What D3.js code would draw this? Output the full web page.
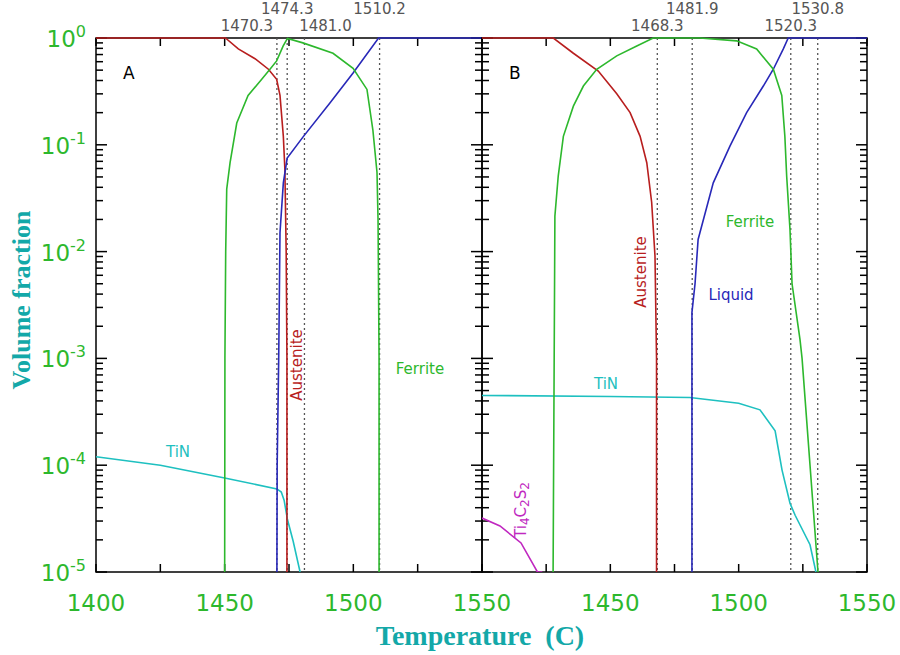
<!DOCTYPE html>
<html>
<head>
<meta charset="utf-8">
<script src="https://cdn.jsdelivr.net/npm/d3@7"></script>
<style>
  body { margin: 0; background: #fff; }
  svg { display: block; }
</style>
</head>
<body>
<svg id="chart"></svg>
<script>
// panel A: [temperature, volume fraction]
const austeniteA = [[1400,1],[1450.3,1],[1455.3,0.79],[1461.8,0.64],[1467.0,0.51],[1470.2,0.41],[1471.5,0.29],[1472.8,0.12],[1473.4,0.059],[1473.9,0.01],[1474.2,1e-3],[1474.2,1e-5]];
const ferriteA = [[1450,1e-5],[1450.1,1e-3],[1450.4,0.01],[1450.8,0.0385],[1452.1,0.068],[1454.7,0.16],[1459.1,0.29],[1464.4,0.41],[1467.6,0.51],[1470.2,0.61],[1472.7,0.84],[1474.4,0.99],[1480.4,0.9],[1492.1,0.72],[1499.9,0.52],[1505.3,0.33],[1507.6,0.137],[1509.2,0.055],[1509.6,0.02],[1510.0,1e-3],[1510.0,1e-5]];
const liquidA = [[1470.3,1e-5],[1470.4,1e-4],[1471,1e-3],[1471.5,0.015],[1472.8,0.044],[1474.3,0.075],[1480.4,0.118],[1490.9,0.246],[1499.9,0.47],[1509.8,1],[1550,1]];
const tinA = [[1400,1.2e-4],[1425,1e-4],[1450,7.6e-5],[1470.3,6.0e-5],[1472,5.6e-5],[1473.1,4.7e-5],[1474.4,3.1e-5],[1476.6,1.95e-5],[1479.3,1e-5]];

// panel B
const austeniteB = [[1400,1],[1427.8,1],[1435.6,0.72],[1445.3,0.49],[1452.5,0.30],[1457.7,0.2],[1461.6,0.12],[1464.2,0.068],[1466.1,0.029],[1467.4,0.0091],[1468.0,1e-3],[1468.0,1e-5]];
const ferriteB = [[1427.7,1e-5],[1428.3,0.0069],[1428.4,0.0215],[1429.7,0.051],[1431.7,0.12],[1435.6,0.23],[1439.5,0.355],[1444.7,0.51],[1452.5,0.68],[1460.3,0.84],[1466.7,1],[1484.9,1],[1499.2,0.94],[1507.0,0.79],[1513.5,0.51],[1516.8,0.29],[1518.0,0.12],[1518.7,0.051],[1520.0,0.016],[1520.8,0.005],[1523.9,0.0015],[1524.7,1e-3],[1527.8,1e-4],[1530.9,1e-5]];
const liquidB = [[1481.8,1e-5],[1481.8,0.0027],[1483.0,0.005],[1484.2,0.013],[1484.9,0.015],[1490.1,0.044],[1496.6,0.097],[1503.1,0.2],[1509.6,0.355],[1513.5,0.51],[1517.4,0.79],[1519.3,1],[1550,1]];
const tinB = [[1400,4.5e-4],[1450,4.4e-4],[1481,4.3e-4],[1500,3.8e-4],[1508.3,3.3e-4],[1514.2,2.1e-4],[1516.9,9e-5],[1520,4.4e-5],[1522,3.4e-5],[1527.8,1.8e-5],[1530.1,1e-5]];
const ti4c2s2B = [[1400,3.2e-5],[1407,2.7e-5],[1415.2,1.87e-5],[1421.6,1e-5],[1423.5,1e-5]];

const markersA = [1470.3, 1474.3, 1481.0, 1510.2];
const markersB = [1468.3, 1481.9, 1520.3, 1530.8];

const xTicksA = [1400, 1450, 1500, 1550];
const xTicksB = [1450, 1500, 1550];
const decades = [-5, -4, -3, -2, -1, 0];

const W = 900, H = 655;
const yTop = 38, yBottom = 572;
const colors = { red: "#b81e1e", green: "#2db82d", blue: "#2828b8", teal: "#1ec0c0", magenta: "#c028c0" };

const svg = d3.select("#chart").attr("width", W).attr("height", H);

const y = d3.scaleLog().domain([1e-5, 1]).range([yBottom, yTop]);

function panel(x0, x1, name, series, markers, labelShift, xTicks, clipId) {
  const x = d3.scaleLinear().domain([1400, 1550]).range([x0, x1]);
  const g = svg.append("g");

  g.append("clipPath").attr("id", clipId)
    .append("rect").attr("x", x0).attr("y", yTop - 2).attr("width", x1 - x0).attr("height", yBottom - yTop + 2);

  // frame
  g.append("rect").attr("x", x0).attr("y", yTop).attr("width", x1 - x0).attr("height", yBottom - yTop)
    .attr("fill", "none").attr("stroke", "#000").attr("stroke-width", 1.5);

  // x ticks every 25
  d3.range(1400, 1551, 25).forEach(t => {
    g.append("line").attr("x1", x(t)).attr("x2", x(t)).attr("y1", yBottom).attr("y2", yBottom - 8).attr("stroke", "#000").attr("stroke-width", 1.5);
    g.append("line").attr("x1", x(t)).attr("x2", x(t)).attr("y1", yTop).attr("y2", yTop + 8).attr("stroke", "#000").attr("stroke-width", 1.5);
  });

  // y ticks (both sides, inward)
  decades.forEach(d => {
    const vals = d < 0 ? d3.range(1, 10).map(m => m * Math.pow(10, d)) : [1];
    vals.forEach((v, i) => {
      const len = i === 0 ? 11 : 7;
      g.append("line").attr("x1", x0).attr("x2", x0 + len).attr("y1", y(v)).attr("y2", y(v)).attr("stroke", "#000").attr("stroke-width", 1.5);
      g.append("line").attr("x1", x1).attr("x2", x1 - len).attr("y1", y(v)).attr("y2", y(v)).attr("stroke", "#000").attr("stroke-width", 1.5);
    });
  });

  // dotted markers
  markers.forEach((m, i) => {
    g.append("line").attr("x1", x(m)).attr("x2", x(m)).attr("y1", yTop).attr("y2", yBottom)
      .attr("stroke", "#555").attr("stroke-width", 1.3).attr("stroke-dasharray", "2,3");
    g.append("text").attr("x", x(m) + labelShift[i]).attr("y", i % 2 === 0 ? 31 : 14)
      .attr("text-anchor", "middle").attr("font-family", "DejaVu Sans").attr("font-size", 15)
      .attr("fill", "#555").text(m.toFixed(1));
  });

  const line = d3.line().x(d => x(d[0])).y(d => y(d[1]));
  series.forEach(s => {
    g.append("path").datum(s.data).attr("d", line).attr("fill", "none")
      .attr("stroke", s.color).attr("stroke-width", 1.6).attr("clip-path", `url(#${clipId})`);
  });

  // x tick labels
  xTicks.forEach(t => {
    g.append("text").attr("x", x(t)).attr("y", 611).attr("text-anchor", "middle")
      .attr("font-family", "DejaVu Sans").attr("font-size", 23).attr("fill", colors.green).text(t);
  });

  g.append("text").attr("x", x0 + 27).attr("y", 79).attr("font-family", "DejaVu Sans")
    .attr("font-size", 17).attr("fill", "#000").text(name);
  return x;
}

panel(96, 482, "A", [
  { data: tinA, color: colors.teal },
  { data: austeniteA, color: colors.red },
  { data: liquidA, color: colors.blue },
  { data: ferriteA, color: colors.green }
], markersA, [-30, 0, 21, 0], xTicksA, "clipA");

panel(482, 867, "B", [
  { data: tinB, color: colors.teal },
  { data: ti4c2s2B, color: colors.magenta },
  { data: austeniteB, color: colors.red },
  { data: liquidB, color: colors.blue },
  { data: ferriteB, color: colors.green }
], markersB, [0, 0, 0, 0], xTicksB, "clipB");

// y tick labels
decades.forEach(d => {
  const t = svg.append("text").attr("x", 86).attr("y", y(Math.pow(10, d)) + 9).attr("text-anchor", "end")
    .attr("font-family", "DejaVu Sans").attr("font-size", 23).attr("fill", colors.green);
  t.append("tspan").text("10");
  t.append("tspan").attr("dy", -10).attr("font-size", 16).text(d);
});

// phase labels
function label(txt, x, yy, color, rot) {
  const t = svg.append("text").attr("font-family", "DejaVu Sans").attr("font-size", 15).attr("fill", color)
    .attr("text-anchor", "middle");
  if (rot) t.attr("transform", `translate(${x},${yy}) rotate(-90)`);
  else t.attr("x", x).attr("y", yy);
  if (txt) t.text(txt);
  return t;
}
label("TiN", 178, 457, colors.teal);
label("Austenite", 302, 365, colors.red, true);
label("Ferrite", 420, 374, colors.green);
label("TiN", 606, 389, colors.teal);
label("Austenite", 646, 272, colors.red, true);
label("Liquid", 731, 300, colors.blue);
label("Ferrite", 750, 227, colors.green);
const tc = label("", 526, 510, colors.magenta, true);
tc.append("tspan").text("Ti");
tc.append("tspan").attr("font-size", 12).attr("dy", 3).text("4");
tc.append("tspan").attr("dy", -3).text("C");
tc.append("tspan").attr("font-size", 12).attr("dy", 3).text("2");
tc.append("tspan").attr("dy", -3).text("S");
tc.append("tspan").attr("font-size", 12).attr("dy", 3).text("2");

// axis titles
svg.append("text").attr("transform", "translate(30,300) rotate(-90)").attr("text-anchor", "middle")
  .attr("font-family", "Liberation Serif").attr("font-weight", "bold").attr("font-size", 26)
  .attr("fill", "#13a8a8").text("Volume fraction");
svg.append("text").attr("x", 480).attr("y", 645).attr("text-anchor", "middle")
  .attr("font-family", "Liberation Serif").attr("font-weight", "bold").attr("font-size", 28)
  .attr("fill", "#13a8a8").attr("xml:space", "preserve").text("Temperature  (C)");
</script>
</body>
</html>
